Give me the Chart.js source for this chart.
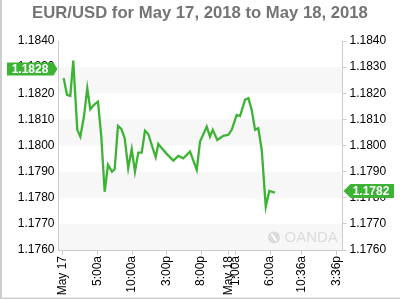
<!DOCTYPE html>
<html>
<head>
<meta charset="utf-8">
<script src="https://cdn.jsdelivr.net/npm/chart.js@4"></script>
<style>
  body { margin: 0; background: #fff; }
</style>
</head>
<body>
<canvas id="myChart" width="400" height="300"></canvas>
<script>

// hours since May 17 00:00
const hours = [0.1, 0.58, 1.06, 1.49, 2.07, 2.51, 3.04, 3.52, 3.96, 4.49,
  5.07, 5.55, 6.04, 6.52, 7.1, 7.49, 7.97, 8.45, 8.94, 9.45,
  9.96, 10.43, 10.91, 11.41, 11.88, 12.36, 12.86, 13.43, 13.81, 14.3,
  15.03, 15.99, 16.71, 17.43, 18.41, 19.38, 19.86, 20.83, 21.3, 21.7,
  22.36, 23.23, 23.96, 24.45, 25.17, 25.65, 26.38, 26.86, 27.35, 27.83,
  28.3, 28.8, 29.38, 29.9, 30.72];
const prices = [1.18258, 1.18194, 1.1819, 1.18325, 1.1806, 1.18034, 1.18111, 1.1822, 1.18139, 1.18156,
  1.18168, 1.18034, 1.17823, 1.17926, 1.1790, 1.17909, 1.18075, 1.18064, 1.18028, 1.17913,
  1.17986, 1.1790, 1.17973, 1.17973, 1.18057, 1.18044, 1.18002, 1.17955, 1.18006, 1.1799,
  1.17968, 1.17942, 1.1796, 1.17951, 1.17977, 1.17907, 1.18015, 1.18072, 1.18034, 1.1806,
  1.18021, 1.18037, 1.18041, 1.1806, 1.18117, 1.18113, 1.18175, 1.18181, 1.18136, 1.1806,
  1.18066, 1.17983, 1.17766, 1.17826, 1.1782];

const tickHours = [0, 5, 10, 15, 20, 24, 25, 30, 34.6, 39.6];
const tickLabels = ["May 17", "5:00a", "10:00a", "3:00p", "8:00p", "May 18", "1:00a", "6:00a", "10:36a", "3:36p"];
const yTicks = [1.176, 1.177, 1.178, 1.179, 1.180, 1.181, 1.182, 1.183, 1.184];

const leftTag = 1.1828;
const rightTag = 1.1782;

const green = "#3db335";

let points = [];
for (let i = 0; i < hours.length; i++) {
  points.push({ x: hours[i], y: prices[i] });
}

// alternating light bands behind the plot
const bands = {
  id: "bands",
  beforeDraw(chart) {
    const ctx = chart.ctx;
    const a = chart.chartArea;
    const y = chart.scales.y;
    ctx.save();
    ctx.fillStyle = "#fff";
    ctx.fillRect(0, 0, chart.width, chart.height);
    ctx.fillStyle = "#f7f7f7";
    for (let i = 0; i < yTicks.length - 1; i += 2) {
      const top = y.getPixelForValue(yTicks[i + 1]);
      const bot = y.getPixelForValue(yTicks[i]);
      ctx.fillRect(a.left, top, a.right - a.left, bot - top);
    }
    // frame of the image
    ctx.fillStyle = "#cfcfcf";
    ctx.fillRect(0, 0, 2, 299);
    ctx.fillRect(0, 297.5, 400, 1.5);
    ctx.restore();
  },
  beforeDatasetsDraw(chart) {
    // OANDA watermark
    const ctx = chart.ctx;
    const a = chart.chartArea;
    ctx.save();
    ctx.fillStyle = "#dcdcdc";
    ctx.beginPath();
    ctx.arc(a.right - 68.5, a.bottom - 12.5, 6, 0, Math.PI * 2);
    ctx.fill();
    ctx.strokeStyle = "#fff";
    ctx.lineWidth = 2;
    ctx.beginPath();
    ctx.moveTo(a.right - 71, a.bottom - 16);
    ctx.lineTo(a.right - 66, a.bottom - 9);
    ctx.stroke();
    ctx.font = "15px 'Liberation Sans', Arial";
    ctx.textBaseline = "middle";
    ctx.fillStyle = "#dcdcdc";
    ctx.fillText("OANDA", a.right - 58, a.bottom - 12);
    ctx.restore();
  },
  afterDraw(chart) {
    const ctx = chart.ctx;
    const a = chart.chartArea;
    const y = chart.scales.y;
    ctx.save();
    ctx.font = "bold 12px 'Liberation Sans', Arial";
    ctx.textBaseline = "middle";
    ctx.textAlign = "center";

    // left tag (covers the 1.1830 label like the original)
    let yy = y.getPixelForValue(leftTag) - 3.5;
    ctx.fillStyle = green;
    ctx.beginPath();
    ctx.moveTo(7, yy - 6.5);
    ctx.lineTo(a.left - 5, yy - 6.5);
    ctx.lineTo(a.left - 1, yy);
    ctx.lineTo(a.left - 5, yy + 6.5);
    ctx.lineTo(7, yy + 6.5);
    ctx.closePath();
    ctx.fill();
    ctx.fillStyle = "#fff";
    ctx.fillText(leftTag.toFixed(4), 30, yy + 0.5);

    // right tag
    yy = y.getPixelForValue(rightTag) - 1.5;
    ctx.fillStyle = green;
    ctx.beginPath();
    ctx.moveTo(a.right + 1, yy);
    ctx.lineTo(a.right + 8, yy - 7);
    ctx.lineTo(394, yy - 7);
    ctx.lineTo(394, yy + 7);
    ctx.lineTo(a.right + 8, yy + 7);
    ctx.closePath();
    ctx.fill();
    ctx.fillStyle = "#fff";
    ctx.fillText(rightTag.toFixed(4), 371, yy + 0.5);
    ctx.restore();
  }
};

const ctx = document.getElementById("myChart");

new Chart(ctx, {
  type: "line",
  data: {
    datasets: [{
      data: points,
      borderColor: green,
      borderWidth: 2.3,
      pointRadius: 0,
      tension: 0,
      fill: false,
      yAxisID: "y"
    }]
  },
  options: {
    responsive: false,
    animation: false,
    devicePixelRatio: 1,
    layout: { padding: 0 },
    plugins: {
      legend: { display: false },
      tooltip: { enabled: false },
      title: {
        display: true,
        text: "EUR/USD for May 17, 2018 to May 18, 2018",
        color: "#747474",
        font: { family: "'Liberation Sans', Arial", size: 16.7, weight: "bold" },
        padding: { top: 3, bottom: 18 }
      }
    },
    scales: {
      x: {
        type: "linear",
        min: -0.65,
        max: 40.5,
        afterBuildTicks: function(s) {
          s.ticks = tickHours.map(v => ({ value: v }));
        },
        afterFit: function(s) { s.height = 50; },
        ticks: {
          autoSkip: false,
          minRotation: 90,
          maxRotation: 90,
          padding: 1,
          color: "#000",
          font: { family: "'Liberation Sans', Arial", size: 12 },
          callback: function(v, i) { return tickLabels[i]; }
        },
        grid: { drawOnChartArea: false, tickLength: 5, color: "#ccc" },
        border: { color: "#ccc" }
      },
      y: {
        position: "left",
        min: 1.176,
        max: 1.184,
        afterBuildTicks: function(s) {
          s.ticks = yTicks.map(v => ({ value: v }));
        },
        afterFit: function(s) { s.width = 58.5; },
        ticks: {
          padding: 4,
          color: "#000",
          font: { family: "'Liberation Sans', Arial", size: 12 },
          callback: function(v) { return v.toFixed(4); }
        },
        grid: { display: false, drawTicks: false },
        border: { color: "#ccc" }
      },
      y2: {
        position: "right",
        min: 1.176,
        max: 1.184,
        afterBuildTicks: function(s) {
          s.ticks = yTicks.map(v => ({ value: v }));
        },
        afterFit: function(s) { s.width = 57.5; },
        ticks: {
          padding: 3,
          color: "#000",
          font: { family: "'Liberation Sans', Arial", size: 12 },
          callback: function(v) { return v.toFixed(4); }
        },
        grid: { drawOnChartArea: false, tickLength: 4, color: "#ccc" },
        border: { color: "#ccc" }
      }
    }
  },
  plugins: [bands]
});

</script>
</body>
</html>
